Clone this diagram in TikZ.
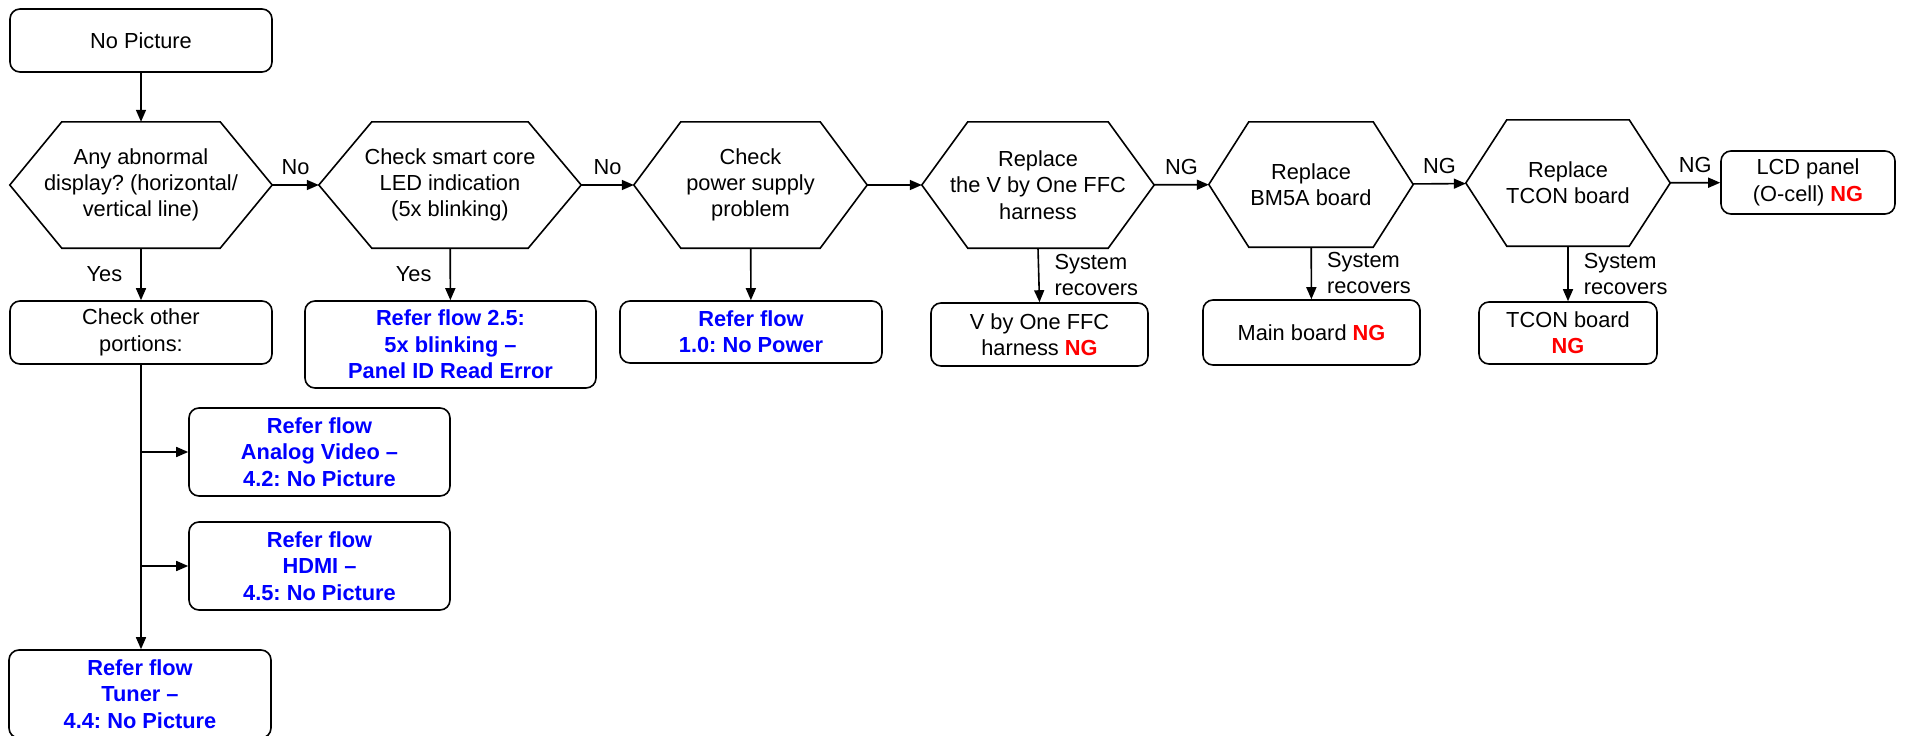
\documentclass[tikz,border=0pt]{standalone}
\usepackage{fontspec}
\setsansfont{Liberation Sans}
\usetikzlibrary{arrows.meta}
\frenchspacing
\newcommand{\ngmark}{\textcolor[RGB]{255,0,0}{\bfseries NG}}
\begin{document}
\begin{tikzpicture}[x=1pt,y=-1pt,
  txt/.style={font=\sffamily\fontsize{21.8}{26.3}\selectfont,text={rgb,255:red,0;green,0;blue,0}},
  box/.style={txt,draw={rgb,255:red,0;green,0;blue,0},line width=1.6pt,rounded corners=10pt,inner sep=0pt,align=center},
  reftext/.style={box,font=\sffamily\bfseries\fontsize{21.8}{26.3}\selectfont,text={rgb,255:red,0;green,0;blue,255}},
  hexnode/.style={txt,inner sep=0pt,align=center,minimum height=126pt},
  hexline/.style={draw={rgb,255:red,0;green,0;blue,0},line width=1.6pt},
  arr/.style={draw={rgb,255:red,0;green,0;blue,0},line width=1.6pt,-{Triangle[length=12pt,width=10pt]}},
  lbl/.style={txt,inner sep=2pt}]
\path[use as bounding box] (0,0) rectangle (1906,736);
\node[box,minimum width=262pt,minimum height=63pt] (start) at (141,40.5) {No Picture};
\node[hexnode,minimum width=262pt] (q1) at (141,185) {Any abnormal\\display? (horizontal/\\vertical line)};
\node[hexnode,minimum width=262pt] (q2) at (450,185) {Check smart core\\LED indication\\(5x blinking)};
\node[hexnode,minimum width=233pt] (q3) at (750.5,185) {Check\\power supply\\problem};
\node[hexnode,minimum width=232pt] (q4) at (1038,185) {Replace\\the V by One FFC\\harness};
\node[hexnode,minimum width=204pt,minimum height=125pt] (q5) at (1311,184.5) {Replace\\BM5A board};
\node[hexnode,minimum width=204pt] (q6) at (1568,183) {Replace\\TCON board};
\foreach \h/\c in {q1/52,q2/53,q3/47,q4/46,q5/40,q6/41}
  \draw[hexline] (\h.west) -- ([xshift=\c]\h.north west) -- ([xshift=-\c]\h.north east) -- (\h.east) -- ([xshift=-\c]\h.south east) -- ([xshift=\c]\h.south west) -- cycle;
\node[box,minimum width=174pt,minimum height=63pt] (lcd) at (1808,182.5) {LCD panel\\(O-cell) \ngmark};
\node[box,minimum width=262pt,minimum height=63pt] (other) at (141,332.5) {Check other\\portions:};
\node[reftext,minimum width=291pt,minimum height=87pt] (ref25) at (450.5,344.5) {Refer flow 2.5:\\5x blinking –\\Panel ID Read Error};
\node[reftext,minimum width=262pt,minimum height=62pt] (ref10) at (751,332) {Refer flow\\1.0: No Power};
\node[box,minimum width=217pt,minimum height=63pt] (vbo) at (1039.5,334.5) {V by One FFC\\harness \ngmark};
\node[box,minimum width=217pt,minimum height=65pt] (mainb) at (1311.5,332.5) {Main board \ngmark};
\node[box,minimum width=178pt,minimum height=62pt] (tconb) at (1568,333) {TCON board\\\ngmark};
\node[reftext,minimum width=261pt,minimum height=88pt] (analog) at (319.5,452) {Refer flow\\Analog Video –\\4.2: No Picture};
\node[reftext,minimum width=261pt,minimum height=88pt] (hdmi) at (319.5,566) {Refer flow\\HDMI –\\4.5: No Picture};
\node[reftext,minimum width=262pt,minimum height=88pt] (tuner) at (140,694) {Refer flow\\Tuner –\\4.4: No Picture};
\draw[arr] (start) -- (q1);
\draw[arr] (q1) -- node[lbl,above=7pt] (no1) {No} (q2);
\draw[arr] (q2) -- node[lbl,above=7pt] (no2) {No} (q3);
\draw[arr] (q3) -- (q4);
\draw[arr] (q4) -- node[lbl,above=7pt] (ng1) {NG} (q5);
\draw[arr] (q5) -- node[lbl,above=7pt] (ng2) {NG} (q6);
\draw[arr] (q6) -- node[lbl,above=7pt] (ng3) {NG} (lcd);
\draw[arr] (q1) -- node[lbl,left=16pt] (yes1) {Yes} (other);
\draw[arr] (q2) -- node[lbl,left=16pt] (yes2) {Yes} (ref25);
\draw[arr] (q3) -- (ref10);
\draw[arr] (q4.south) -- node[lbl,right=13pt,align=left] (ok1) {System\\recovers} (vbo.north);
\draw[arr] (q5) -- node[lbl,right=13pt,align=left] (ok2) {System\\recovers} (mainb);
\draw[arr] (q6) -- node[lbl,right=13pt,align=left] (ok3) {System\\recovers} (tconb);
\draw[arr] (other.south) -- (other.south |- tuner.north);
\draw[arr] (other.south |- analog.west) -- (analog.west);
\draw[arr] (other.south |- hdmi.west) -- (hdmi.west);
\end{tikzpicture}
\end{document}
